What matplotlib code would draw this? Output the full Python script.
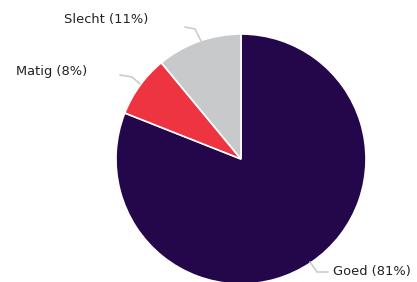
import matplotlib
matplotlib.use("Agg")
import matplotlib.pyplot as plt

labels = ["Goed", "Matig", "Slecht"]
values = [81, 8, 11]
colors = ["#24064b", "#ee3440", "#c8c9cb"]

W, H = 417, 282
fig = plt.figure(figsize=(W / 100, H / 100), dpi=100)
ax = fig.add_axes([0, 0, 1, 1])

cx, cy, r = 241, H - 159, 125
ax.pie(values, colors=colors, startangle=90, counterclock=False,
       center=(cx, cy), radius=r, frame=True,
       wedgeprops=dict(edgecolor="white", linewidth=1.2))
ax.set_xlim(0, W)
ax.set_ylim(0, H)
ax.set_aspect("equal")
ax.axis("off")

# connectors and labels (pixel positions, y from top)
conn = {
    "Goed": [(310, 262), (317, 272), (328, 272)],
    "Matig": [(140, 84), (132, 77), (120, 75)],
    "Slecht": [(201, 41), (195, 29), (185, 27)],
}
txt = {
    "Goed": (333, 272, "left"),
    "Matig": (87, 72, "right"),
    "Slecht": (148, 20, "right"),
}
for lab, v in zip(labels, values):
    pts = conn[lab]
    ax.plot([p[0] for p in pts], [H - p[1] for p in pts], color="#cccccc", lw=1.2,
            solid_capstyle="round")
    x, y, ha = txt[lab]
    ax.text(x, H - y, f"{lab} ({v}%)", ha=ha, va="center", fontsize=9.4,
            color="#222222", family="DejaVu Sans")

fig.savefig("out.png", dpi=100)
